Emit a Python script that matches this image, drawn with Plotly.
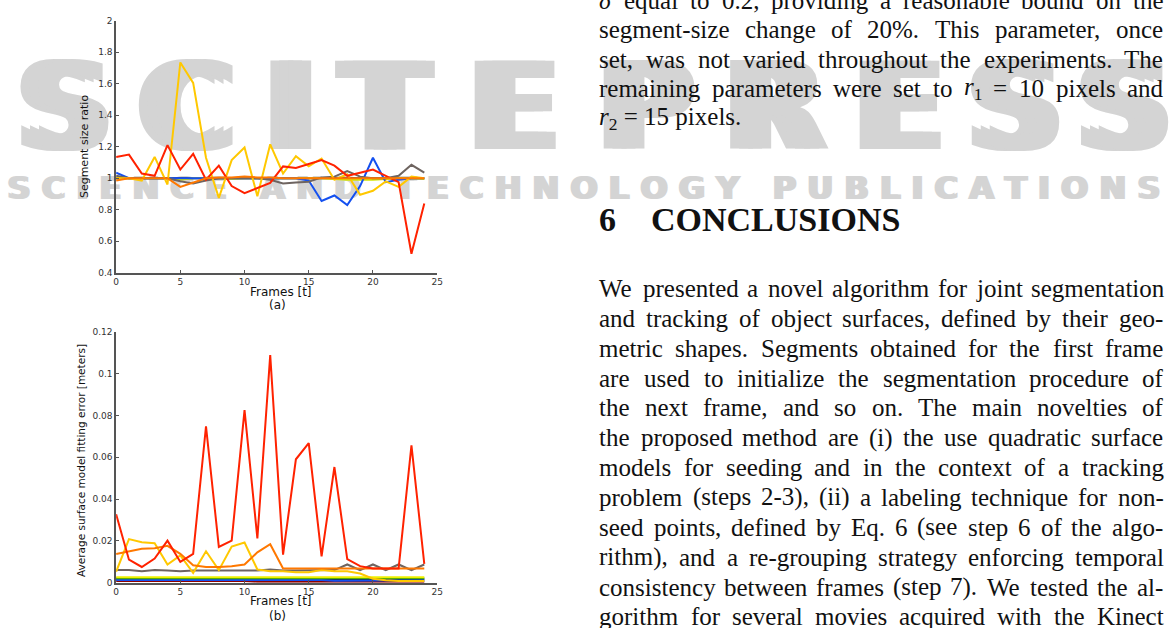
import re
import plotly.graph_objects as go

W, H = 1171, 628

# ---------------- data ----------------
frames = list(range(25))

# (a) segment size ratio
ratio_navy = [1.0] * 25
ratio_lime = [1.0, 1.0, 1.0, 1.0, 1.0, 0.99, 1.0, 1.0, 1.0, 0.995, 1.0, 1.0, 1.0, 1.0, 1.0, 1.0, 1.0,
              0.995, 0.99, 0.99, 0.99, 0.995, 1.0, 1.0, 0.995]
ratio_blue = [1.035, 1.0, 1.0, 1.0, 1.0, 1.0, 1.0, 1.0, 1.0, 1.0, 1.0, 1.0, 1.0, 1.0, 1.0, 0.985, 0.855,
              0.89, 0.83, 0.95, 1.13, 0.975, 0.99, 1.0, 1.0]
ratio_gray = [1.015, 1.0, 1.0, 1.0, 1.0, 0.98, 0.967, 0.985, 1.0, 1.0, 1.0, 1.0, 0.99, 0.967, 0.973, 0.977,
              1.005, 1.01, 1.045, 1.01, 1.0, 1.0, 1.015, 1.085, 1.035]
ratio_gold = [1.0, 1.0, 0.985, 1.135, 0.96, 1.735, 1.605, 1.13, 0.875, 1.115, 1.195, 0.885, 1.215, 1.03,
              1.14, 1.075, 1.125, 0.99, 1.025, 0.895, 0.92, 0.98, 0.945, 1.01, 1.0]
ratio_red = [1.135, 1.15, 1.03, 1.015, 1.21, 1.055, 1.155, 0.99, 1.08, 0.95, 0.905, 0.94, 0.97, 1.075,
             1.065, 1.09, 1.115, 1.08, 1.015, 1.035, 1.055, 1.015, 0.975, 0.52, 0.84]
ratio_orange = [0.985, 1.0, 1.0, 1.0, 1.0, 0.945, 0.975, 1.0, 1.005, 1.005, 1.01, 1.005, 1.005, 1.0, 1.0,
                1.0, 1.0, 1.0, 1.0, 1.0, 1.0, 1.0, 1.0, 1.0, 1.0]

# (b) average surface model fitting error [m]
err_darkred = [0.0008] * 11 + [0.0004] * 14
err_blue = [0.0013] * 17 + [0.0009, 0.0009, 0.0010] + [0.0012] * 5
err_navy = [0.0016] * 25
err_green = [0.0021] * 25
err_lime = [0.0026] * 25
err_gray = [0.006, 0.006, 0.0055, 0.006, 0.0058, 0.0055, 0.0058, 0.0058, 0.006, 0.0058, 0.0058, 0.0058,
            0.0063, 0.0058, 0.0058, 0.0058, 0.0058, 0.006, 0.0087, 0.006, 0.0087, 0.006, 0.0087, 0.006, 0.0087]
err_gold = [0.0052, 0.0208, 0.0193, 0.0189, 0.0087, 0.013, 0.0047, 0.015, 0.006, 0.0173, 0.0192, 0.0063,
            0.0055, 0.0055, 0.005, 0.005, 0.006, 0.0055, 0.0055, 0.0044, 0.0019, 0.0011, 0.0008, 0.0008, 0.0008]
err_orange = [0.0137, 0.015, 0.0162, 0.0165, 0.0176, 0.0138, 0.0083, 0.0075, 0.0075, 0.0079, 0.0087, 0.0145,
              0.0184, 0.0068, 0.0068, 0.0068, 0.0071, 0.0071, 0.0071, 0.0071, 0.0069, 0.0068, 0.0068, 0.0068, 0.0068]
err_red = [0.0327, 0.011, 0.0075, 0.0115, 0.0201, 0.0099, 0.0138, 0.0747, 0.0171, 0.0201, 0.0825, 0.0212,
           0.1088, 0.0134, 0.059, 0.0667, 0.0126, 0.0553, 0.0113, 0.0079, 0.0068, 0.0068, 0.0068, 0.0656, 0.009]

x_ticks = [0, 5, 10, 15, 20, 25]
ratio_ticks = [0.4, 0.6, 0.8, 1.0, 1.2, 1.4, 1.6, 1.8, 2.0]
ratio_tick_labels = ["0.4", "0.6", "0.8", "1", "1.2", "1.4", "1.6", "1.8", "2"]
err_ticks = [0, 0.02, 0.04, 0.06, 0.08, 0.1, 0.12]
err_tick_labels = ["0", "0.02", "0.04", "0.06", "0.08", "0.1", "0.12"]

# body text: (line, justified?)
text_block1 = [
    ("<i>δ</i> equal to 0.2, providing a reasonable bound on the", True),
    ("segment-size change of 20%. This parameter, once", True),
    ("set, was not varied throughout the experiments. The", True),
    ("remaining parameters were set to <i>r</i><sub>1</sub> = 10 pixels and", True),
    ("<i>r</i><sub>2</sub> = 15 pixels.", False),
]
text_block2 = [
    ("We presented a novel algorithm for joint segmentation", True),
    ("and tracking of object surfaces, defined by their geo-", True),
    ("metric shapes. Segments obtained for the first frame", True),
    ("are used to initialize the segmentation procedure of", True),
    ("the next frame, and so on. The main novelties of", True),
    ("the proposed method are (i) the use quadratic surface", True),
    ("models for seeding and in the context of a tracking", True),
    ("problem (steps 2-3), (ii) a labeling technique for non-", True),
    ("seed points, defined by Eq. 6 (see step 6 of the algo-", True),
    ("rithm), and a re-grouping strategy enforcing temporal", True),
    ("consistency between frames (step 7). We tested the al-", True),
    ("gorithm for several movies acquired with the Kinect", True),
]

# ---------------- helpers ----------------
TIMES = {' ': 250, '!': 333, '%': 833, '(': 333, ')': 333, ',': 250, '-': 333, '.': 250, ':': 278,
         '=': 564, '[': 333, ']': 333, '?': 444,
         'A': 722, 'B': 667, 'C': 667, 'D': 722, 'E': 611, 'F': 556, 'G': 722, 'H': 722, 'I': 333,
         'J': 389, 'K': 722, 'L': 611, 'M': 889, 'N': 722, 'O': 722, 'P': 556, 'Q': 722, 'R': 667,
         'S': 556, 'T': 611, 'U': 722, 'V': 722, 'W': 944, 'X': 722, 'Y': 722, 'Z': 611,
         'a': 444, 'b': 500, 'c': 444, 'd': 500, 'e': 444, 'f': 333, 'g': 500, 'h': 500, 'i': 278,
         'j': 278, 'k': 500, 'l': 278, 'm': 778, 'n': 500, 'o': 500, 'p': 500, 'q': 500, 'r': 333,
         's': 389, 't': 278, 'u': 500, 'v': 500, 'w': 722, 'x': 500, 'y': 500, 'z': 444, 'δ': 500}


def word_width(word, size):
    total = 0.0
    for sub, plain in re.findall(r"<sub>(.*?)</sub>|([^<]+|<[^>]*>)", word):
        if sub:
            total += 0.7 * sum(TIMES.get(c, 500) for c in sub)
        elif plain and not plain.startswith("<"):
            total += sum(TIMES.get(c, 500) for c in plain)
    return total * size / 1000.0


def px_x(p):
    return p / W


def px_y(p):
    return 1 - p / H


# ---------------- figure ----------------
C = dict(navy="#10105a", lime="#d4e400", blue="#1450f0", gray="#6e6460", gold="#ffc800",
         red="#ff2200", orange="#ff7800", darkred="#8c0000", green="#2e9a00", lime2="#eef000")

fig = go.Figure()

series_a = [(ratio_navy, C["navy"]), (ratio_lime, C["lime"]), (ratio_blue, C["blue"]),
            (ratio_gray, C["gray"]), (ratio_gold, C["gold"]), (ratio_red, C["red"]),
            (ratio_orange, C["orange"])]
for vals, col in series_a:
    fig.add_trace(go.Scatter(x=frames, y=vals, mode="lines", line=dict(color=col, width=2),
                             xaxis="x", yaxis="y", showlegend=False, hoverinfo="skip"))

series_b = [(err_darkred, C["darkred"]), (err_navy, C["navy"]), (err_blue, C["blue"]),
            (err_green, C["green"]), (err_lime, C["lime2"]), (err_gray, C["gray"]),
            (err_gold, C["gold"]), (err_orange, C["orange"]), (err_red, C["red"])]
for vals, col in series_b:
    fig.add_trace(go.Scatter(x=frames, y=vals, mode="lines", line=dict(color=col, width=2),
                             xaxis="x2", yaxis="y2", showlegend=False, hoverinfo="skip"))

axis_common = dict(showgrid=False, zeroline=False, showline=True, linecolor="#555555", linewidth=1.5,
                   ticks="inside", ticklen=3, tickwidth=1, tickcolor="#555555",
                   tickfont=dict(family="DejaVu Sans", size=9, color="#333333"))

xdom = [px_x(114), px_x(437.5)]
fig.update_layout(
    width=W, height=H, margin=dict(l=0, r=0, t=0, b=0),
    paper_bgcolor="white", plot_bgcolor="rgba(0,0,0,0)", showlegend=False,
    xaxis=dict(domain=xdom, range=[0, 25], tickvals=x_ticks, anchor="y", **axis_common),
    yaxis=dict(domain=[px_y(272), px_y(16)], range=[0.4, 2], tickvals=ratio_ticks,
               ticktext=ratio_tick_labels, anchor="x", **axis_common),
    xaxis2=dict(domain=xdom, range=[0, 25], tickvals=x_ticks, anchor="y2", **axis_common),
    yaxis2=dict(domain=[px_y(587), px_y(332)], range=[0, 0.12], tickvals=err_ticks,
                ticktext=err_tick_labels, anchor="x2", **axis_common),
)

ann = []
lab_font = dict(family="DejaVu Sans", size=12, color="#111111")
ann.append(dict(x=px_x(280), y=px_y(292), text="Frames [t]", font=lab_font))
ann.append(dict(x=px_x(277), y=px_y(305), text="(a)", font=lab_font))
ann.append(dict(x=px_x(280), y=px_y(606), text="Frames [t]", font=lab_font))
ann.append(dict(x=px_x(277), y=px_y(621), text="(b)", font=lab_font))
ann.append(dict(x=px_x(82), y=px_y(144), text="Segment size ratio", textangle=-90,
                font=dict(family="DejaVu Sans", size=11, color="#111111")))
ann.append(dict(x=px_x(78), y=px_y(463), text="Average surface model fitting error [meters]",
                textangle=-90, font=dict(family="DejaVu Sans", size=10.5, color="#111111")))

BODY_SIZE = 25
serif = dict(family="Liberation Serif", size=BODY_SIZE, color="#111111")
LEFT, RIGHT = 599, 1167


def add_line(text, justified, ypix):
    if not justified:
        ann.append(dict(x=px_x(LEFT), y=px_y(ypix), text=text, xanchor="left", font=serif))
        return
    words = text.split(" ")
    widths = [word_width(w, BODY_SIZE) for w in words]
    gap = (RIGHT - LEFT - sum(widths)) / max(len(words) - 1, 1)
    x = LEFT
    for w, wd in zip(words, widths):
        ann.append(dict(x=px_x(x), y=px_y(ypix), text=w, xanchor="left", font=serif))
        x += wd + gap


for i, (line, just) in enumerate(text_block1):
    add_line(line, just, -5 + 30 * i)
head = dict(family="Liberation Serif", size=34, color="#111111")
ann.append(dict(x=px_x(599), y=px_y(218), text="<b>6</b>", xanchor="left", font=head))
ann.append(dict(x=px_x(651), y=px_y(218), text="<b>CONCLUSIONS</b>", xanchor="left", font=head))
for i, (line, just) in enumerate(text_block2):
    add_line(line, just, 288 + 30.35 * i)

for a in ann:
    a.update(xref="paper", yref="paper", showarrow=False)
    a.setdefault("xanchor", "center")
    a.setdefault("yanchor", "middle")
fig.update_layout(annotations=ann)

# ---------------- watermark (behind everything) ----------------
wm_color = "#d4d4d4"
big_letters = [("S", 62), ("C", 185), ("I", 290), ("T", 385), ("E", 515), ("P", 648),
               ("R", 778), ("E", 903), ("S", 1020), ("S", 1130)]
shapes = []
for ch, cx in big_letters:
    for dx in (-9, 0, 9):
        shapes.append(dict(type="rect", xref="paper", yref="paper", layer="below",
                           x0=px_x(cx + dx - 60), x1=px_x(cx + dx + 60), y0=px_y(140), y1=px_y(48),
                           line=dict(width=0), fillcolor="rgba(0,0,0,0)",
                           label=dict(text="<b>" + ch + "</b>", textposition="middle center",
                                      font=dict(family="DejaVu Sans", size=122, color=wm_color,
                                                weight="bold"))))
band = "S C I E N C E   A N D   T E C H N O L O G Y   P U B L I C A T I O N S"
for dx in (-1.5, 1.5):
    shapes.append(dict(type="rect", xref="paper", yref="paper", layer="below",
                       x0=-0.02 + dx / W, x1=1.02 + dx / W, y0=px_y(198), y1=px_y(170),
                       line=dict(width=0), fillcolor="rgba(0,0,0,0)",
                       label=dict(text="<b>" + band + "</b>", textposition="middle center",
                                  font=dict(family="DejaVu Sans", size=32, color=wm_color,
                                            weight="bold"))))
fig.update_layout(shapes=shapes)

fig.write_html("out.html", config={"displayModeBar": False},
               post_script="document.body.style.margin='0px';document.body.style.overflow='hidden';")
